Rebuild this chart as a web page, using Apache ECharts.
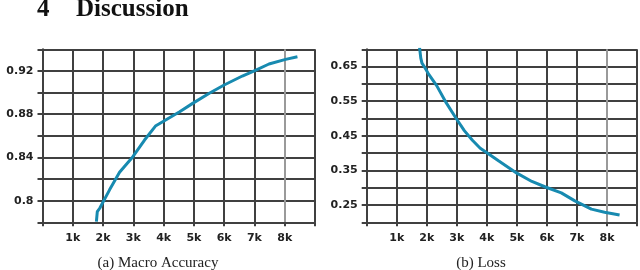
<!DOCTYPE html>
<html>
<head>
<meta charset="utf-8">
<script src="https://cdn.jsdelivr.net/npm/echarts@6/dist/echarts.min.js"></script>
<style>
html,body{margin:0;padding:0;background:#fff;}
#c{width:640px;height:270px;}
</style>
</head>
<body>
<div id="c"></div>
<script>
// ---- data ----
const accSteps  = [1780, 1810, 1890, 2215, 2545, 2985, 3370, 3730, 3970, 4530, 4960, 5510, 6000, 6600, 7050, 7480, 8030, 8420];
const accValues = [0.7806, 0.7898, 0.793, 0.810, 0.8262, 0.8407, 0.8561, 0.869, 0.873, 0.8823, 0.890, 0.8993, 0.907, 0.9153, 0.9208, 0.9264, 0.9307, 0.9331];

const lossSteps  = [1760, 1800, 1840, 1930, 2050, 2330, 2650, 2980, 3250, 3520, 3780, 4050, 4400, 5000, 5500, 5950, 6480, 6930, 7480, 7920, 8420];
const lossValues = [0.705, 0.675, 0.66, 0.648, 0.63, 0.595, 0.545, 0.5, 0.465, 0.437, 0.414, 0.398, 0.377, 0.342, 0.318, 0.302, 0.285, 0.262, 0.238, 0.229, 0.221];

const xTickValues = [1000, 2000, 3000, 4000, 5000, 6000, 7000, 8000];
const xTickLabels = ['1k', '2k', '3k', '4k', '5k', '6k', '7k', '8k'];
const accTickValues = [0.80, 0.84, 0.88, 0.92];
const accTickLabels = ['0.8', '0.84', '0.88', '0.92'];
const lossTickValues = [0.25, 0.35, 0.45, 0.55, 0.65];
const lossTickLabels = ['0.25', '0.35', '0.45', '0.55', '0.65'];

const headingNumber = '4';
const headingText = 'Discussion';
const captions = ['(a) Macro Accuracy', '(b) Loss'];

// ---- helpers ----
function lookup(values, labels) {
  return function (v) {
    for (let i = 0; i < values.length; i++) {
      if (Math.abs(values[i] - v) < 1e-6) return labels[i];
    }
    return '';
  };
}
const GRID = '#404040';
const LIGHT = '#9a9a9a';
const xSplitColors = [GRID, GRID, GRID, GRID, GRID, GRID, GRID, GRID, LIGHT, GRID];
const lineColor = '#178ab0';
const labelStyle = {fontFamily: 'DejaVu Sans', fontWeight: 'bold', fontSize: 11, color: '#222'};

function xAxis(gi) {
  return {
    type: 'value', gridIndex: gi, min: 0, max: 9000, interval: 1000,
    axisLine: {show: true, lineStyle: {color: GRID, width: 2}},
    axisTick: {show: true, length: 4, lineStyle: {color: GRID, width: 2}},
    axisLabel: Object.assign({margin: 10, formatter: lookup(xTickValues, xTickLabels)}, labelStyle),
    splitLine: {show: true, lineStyle: {color: xSplitColors, width: 2}}
  };
}
function yAxis(gi, min, max, interval, vals, labs) {
  return {
    type: 'value', gridIndex: gi, min: min, max: max, interval: interval,
    axisLine: {show: true, lineStyle: {color: GRID, width: 2}},
    axisTick: {show: true, length: 5, lineStyle: {color: GRID, width: 2}},
    axisLabel: Object.assign({margin: 9, formatter: lookup(vals, labs)}, labelStyle),
    splitLine: {show: true, lineStyle: {color: GRID, width: 2}}
  };
}

const chart = echarts.init(document.getElementById('c'), null, {renderer: 'canvas'});
chart.setOption({
  animation: false,
  backgroundColor: '#fff',
  title: [
    {text: headingNumber, left: 32, top: -8, textStyle: {fontFamily: 'Liberation Serif', fontWeight: 'bold', fontSize: 25, color: '#111'}},
    {text: headingText, left: 71, top: -8, textStyle: {fontFamily: 'Liberation Serif', fontWeight: 'bold', fontSize: 25, color: '#111'}},
    {text: captions[0], left: 153, top: 251, textAlign: 'center', textStyle: {fontFamily: 'Liberation Serif', fontWeight: 'normal', fontSize: 15, color: '#222'}},
    {text: captions[1], left: 476, top: 251, textAlign: 'center', textStyle: {fontFamily: 'Liberation Serif', fontWeight: 'normal', fontSize: 15, color: '#222'}}
  ],
  grid: [
    {left: 42.5, top: 49.3, width: 272.5, height: 173},
    {left: 366.7, top: 49.3, width: 272, height: 173}
  ],
  xAxis: [xAxis(0), xAxis(1)],
  yAxis: [
    yAxis(0, 0.78, 0.94, 0.02, accTickValues, accTickLabels),
    yAxis(1, 0.20, 0.70, 0.05, lossTickValues, lossTickLabels)
  ],
  series: [
    {type: 'line', xAxisIndex: 0, yAxisIndex: 0, showSymbol: false, symbol: 'none', clip: true,
     lineStyle: {color: lineColor, width: 3}, data: accSteps.map((s, i) => [s, accValues[i]])},
    {type: 'line', xAxisIndex: 1, yAxisIndex: 1, showSymbol: false, symbol: 'none', clip: true,
     lineStyle: {color: lineColor, width: 3}, data: lossSteps.map((s, i) => [s, lossValues[i]])}
  ]
});
</script>
</body>
</html>
